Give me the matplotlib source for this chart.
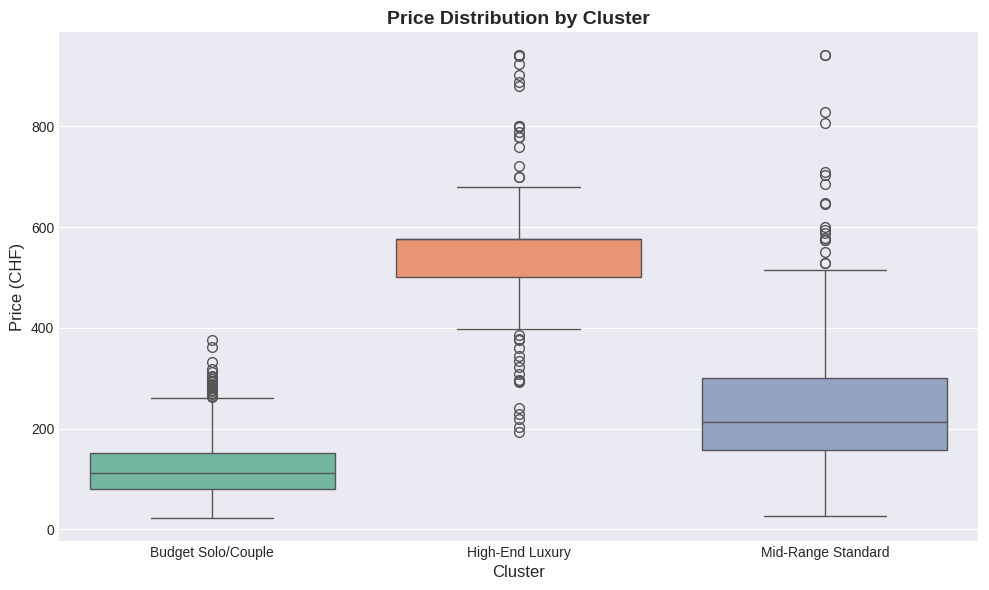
import matplotlib
matplotlib.use("Agg")
import matplotlib.pyplot as plt
import seaborn as sns

# cluster labels
clusters = ["Budget Solo/Couple", "High-End Luxury", "Mid-Range Standard"]

# box statistics (CHF)
whisk_lo = [23, 397, 26]
q1 = [81, 500, 157]
median = [112, 576, 214]
q3 = [152, 576, 300]
whisk_hi = [261, 679, 514]

# outliers per cluster
fliers_budget = [375, 362, 332, 319, 312, 305, 302, 298, 295, 292, 289, 286,
                 283, 280, 277, 274, 271, 268, 265, 263]
fliers_luxury = [941, 941, 940, 924, 901, 888, 879, 800, 800, 799, 789, 779,
                 779, 758, 722, 699, 699, 385, 378, 375, 359, 345, 335, 322,
                 309, 297, 295, 292, 240, 230, 220, 203, 193]
fliers_mid = [941, 941, 828, 807, 709, 703, 686, 648, 645, 600, 595, 588,
              579, 575, 575, 550, 529, 529]

plt.style.use("seaborn-v0_8-darkgrid")
plt.rcParams["font.family"] = ["Liberation Sans", "DejaVu Sans"]

palette = [sns.desaturate(c, 0.75) for c in sns.color_palette("Set2", 3)]
line_col = "#555555"

stats = []
for i, name in enumerate(clusters):
    stats.append({
        "label": name,
        "whislo": whisk_lo[i],
        "q1": q1[i],
        "med": median[i],
        "q3": q3[i],
        "whishi": whisk_hi[i],
        "fliers": [fliers_budget, fliers_luxury, fliers_mid][i],
    })

fig, ax = plt.subplots(figsize=(9.89, 5.9), dpi=100)
lw = 1.0
bp = ax.bxp(stats, positions=range(3), widths=0.8, patch_artist=True,
            boxprops=dict(edgecolor=line_col, linewidth=lw),
            medianprops=dict(color=line_col, linewidth=lw),
            whiskerprops=dict(color=line_col, linewidth=lw),
            capprops=dict(color=line_col, linewidth=lw),
            flierprops=dict(marker="o", markerfacecolor="none",
                            markeredgecolor=line_col, markersize=7,
                            markeredgewidth=1.0))
for patch, col in zip(bp["boxes"], palette):
    patch.set_facecolor(col)
for cap in bp["caps"]:
    x0, x1 = cap.get_xdata()
    c = (x0 + x1) / 2
    cap.set_xdata([c - 0.2, c + 0.2])

ax.set_xlim(-0.5, 2.5)
ax.set_xticks(range(3))
ax.set_xticklabels(clusters)
ax.set_title("Price Distribution by Cluster", fontsize=14, fontweight="bold")
ax.set_xlabel("Cluster", fontsize=12)
ax.set_ylabel("Price (CHF)", fontsize=12)
ax.grid(axis="x", visible=False)

fig.subplots_adjust(left=59 / 989, right=978 / 989, top=1 - 32 / 590,
                    bottom=1 - 541 / 590)
plt.savefig("out.png", dpi=100)
